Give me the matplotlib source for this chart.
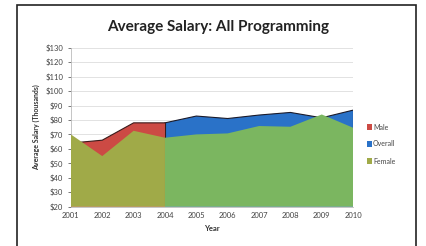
import numpy as np
import matplotlib.pyplot as plt
from matplotlib.patches import Rectangle

years = [2001, 2002, 2003, 2004, 2005, 2006, 2007, 2008, 2009, 2010]
female = [70, 55, 72.5, 67.7, 70, 70.7, 75.8, 75.3, 83.8, 74.6]
male = [64, 66, 78, 78, np.nan, np.nan, np.nan, np.nan, np.nan, np.nan]
overall = [np.nan, np.nan, np.nan, 78, 82.7, 81, 83.4, 85.2, 81.5, 86.8]
ytick_vals = list(range(20, 140, 10))
ytick_labels = ["$%d" % v for v in ytick_vals]

plt.rcParams['font.family'] = ['Lato', 'DejaVu Sans']

fig = plt.figure(figsize=(4.27, 2.46), dpi=100)
# outer frame (bottom edge is cut off in the original)
fig.patches.append(Rectangle((17 / 427, -0.05), (416 - 17) / 427, 1.05 - 5 / 246,
                             transform=fig.transFigure, fill=False, edgecolor='#222222',
                             linewidth=1.2, zorder=0))

ax = fig.add_axes([0.166, 0.160, 0.661, 0.646])

x = np.array(years)
fem = np.array(female)
mal = np.array(male)
ovr = np.array(overall)

# back to front: overall, male, female
ok = ~np.isnan(ovr)
ax.fill_between(x[ok], 20, ovr[ok], color='#2a72c8', edgecolor='none', zorder=2)
ax.plot(x[ok], ovr[ok], color='#1a1a2a', linewidth=0.8, zorder=3)
ax.plot([x[ok][-1]] * 2, [20, ovr[ok][-1]], color='#1a1a2a', linewidth=0.8, zorder=3)

mk = ~np.isnan(mal)
ax.fill_between(x[mk], 20, mal[mk], color='#cc4a44', edgecolor='none', zorder=4)
ax.plot(x[mk], mal[mk], color='#3a1a1a', linewidth=0.8, zorder=5)
ax.plot([x[mk][-1]] * 2, [mal[mk][-1], fem[mk][-1]], color='#3a1a1a', linewidth=0.8, zorder=5)

left = x <= 2004
right = x >= 2004
ax.fill_between(x[left], 20, fem[left], color='#a0aa48', edgecolor='none', zorder=6)
ax.fill_between(x[right], 20, fem[right], color='#7bb660', edgecolor='none', zorder=6)

ax.set_xlim(2001, 2010)
ax.set_ylim(20, 130)
ax.set_yticks(ytick_vals)
ax.set_yticklabels(ytick_labels)
ax.set_xticks(years)
ax.set_xticklabels([str(y) for y in years])
ax.tick_params(axis='both', labelsize=5.5, colors='#444444', length=2, width=0.5)
ax.tick_params(axis='x', length=0, pad=4)
ax.grid(axis='y', color='#dddddd', linewidth=0.6, zorder=0)
ax.set_axisbelow(True)
for s in ['top', 'right']:
    ax.spines[s].set_visible(False)
ax.spines['left'].set_color('#bbbbbb')
ax.spines['bottom'].set_color('#bbbbbb')
ax.spines['left'].set_linewidth(0.6)
ax.spines['bottom'].set_linewidth(0.6)

ax.set_ylabel("Average Salary (Thousands)", fontsize=5, fontweight='bold', color='#333333', labelpad=4)
ax.set_xlabel("Year", fontsize=5.5, fontweight='bold', color='#333333', labelpad=4)

fig.text(0.51, 0.89, "Average Salary: All Programming", ha='center', va='center',
         fontsize=11, fontweight='bold', color='#222222')

# legend
leg_items = [("Male", '#cc4a44'), ("Overall", '#2a72c8'), ("Female", '#a0aa48')]
for i, (name, col) in enumerate(leg_items):
    yy = 1 - (127 + i * 17) / 246
    fig.patches.append(Rectangle((367 / 427, yy - 0.012), 5 / 427, 0.024,
                                 transform=fig.transFigure, facecolor=col, edgecolor='none'))
    fig.text(373 / 427, yy, name, fontsize=5, va='center', ha='left', color='#444444')

plt.savefig("out.png", dpi=100)
